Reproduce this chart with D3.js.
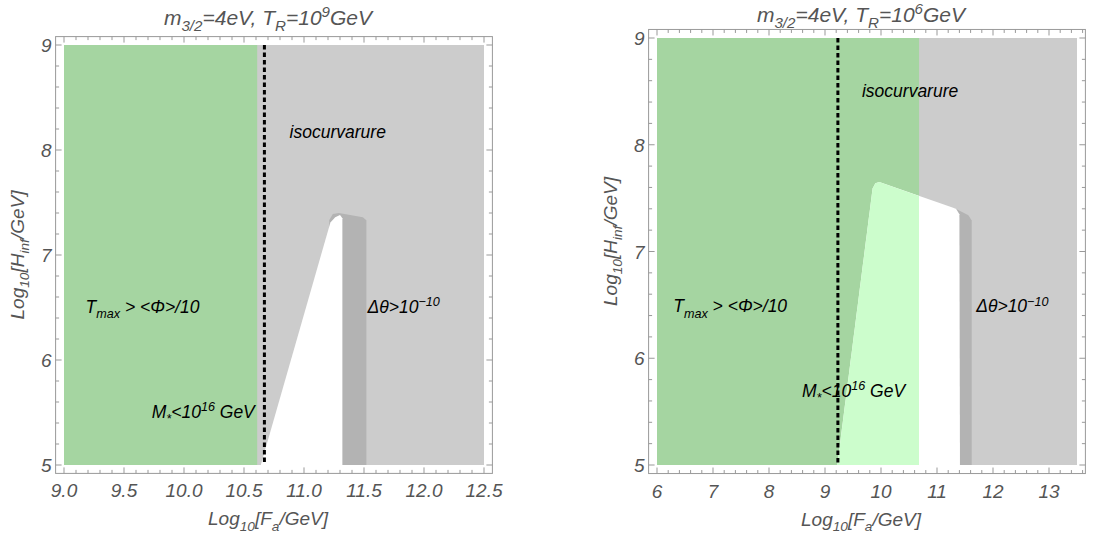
<!DOCTYPE html>
<html>
<head>
<meta charset="utf-8">
<script src="https://cdn.jsdelivr.net/npm/d3@7"></script>
<style>
  body { margin: 0; background: #fff; }
  text { font-family: "Liberation Sans", Arial, sans-serif; font-style: italic; }
</style>
</head>
<body>
<script>
// ---- data ----
var leftXTicks = [9.0, 9.5, 10.0, 10.5, 11.0, 11.5, 12.0, 12.5];
var rightXTicks = [6, 7, 8, 9, 10, 11, 12, 13];
var yTicks = [5, 6, 7, 8, 9];

// left panel regions (Log10 Fa, Log10 Hinf)
var leftGreen = [[9, 5], [10.61, 5], [10.61, 9], [9, 9]];
var leftDark = [[11.21, 7.33], [11.24, 7.39], [11.29, 7.40], [11.49, 7.36], [11.52, 7.33], [11.52, 5], [11.21, 5]];
var leftWhite = [[10.64, 5], [11.22, 7.31], [11.26, 7.36], [11.30, 7.38], [11.32, 7.35], [11.32, 5]];
var leftDash = 10.67;

// right panel regions
var rightGreenEdge = 10.68;
var rightDark = [[11.30, 7.41], [11.56, 7.34], [11.62, 7.29], [11.62, 5], [11.30, 5]];
var rightWhite = [[9.22, 5], [9.85, 7.59], [9.90, 7.64], [9.97, 7.65], [11.34, 7.40], [11.40, 7.35], [11.41, 5]];
var rightDash = 9.23;

var w = 1096;
var h = 533;

var svg = d3.select("body").append("svg")
  .attr("width", w)
  .attr("height", h);

function richText(g, x, y, parts, size, color, anchor) {
  var t = g.append("text")
    .attr("x", x)
    .attr("y", y)
    .attr("font-size", size)
    .attr("fill", color)
    .attr("text-anchor", anchor || "start");
  var shift = 0;
  parts.forEach(function(p) {
    var target = p.sub ? size * 0.3 : (p.sup ? -size * 0.36 : 0);
    t.append("tspan")
      .attr("dy", target - shift)
      .attr("font-size", (p.sub || p.sup) ? size * 0.72 : size)
      .text(p.t);
    shift = target;
  });
  return t;
}

function drawPanel(cfg) {
  var x = d3.scaleLinear().domain(cfg.xDomain).range(cfg.xRange);
  var y = d3.scaleLinear().domain([5, 9]).range(cfg.yRange);
  var padX = (cfg.xDomain[1] - cfg.xDomain[0]) * 0.02;
  var padY = 4 * 0.02;
  var fx0 = x(cfg.xDomain[0] - padX), fx1 = x(cfg.xDomain[1] + padX);
  var fy0 = y(9 + padY), fy1 = y(5 - padY);
  var g = svg.append("g");
  var line = d3.line().x(function(d) { return x(d[0]); }).y(function(d) { return y(d[1]); });

  // gray background region
  g.append("rect")
    .attr("x", x(cfg.xDomain[0])).attr("y", y(9))
    .attr("width", x(cfg.xDomain[1]) - x(cfg.xDomain[0]))
    .attr("height", y(5) - y(9))
    .attr("fill", "#cccccc");

  // green region
  g.append("path").attr("d", line(cfg.green) + "Z").attr("fill", "#a5d5a1");

  g.append("path").attr("d", line(cfg.dark) + "Z").attr("fill", "#b3b3b3");
  g.append("path").attr("d", line(cfg.white) + "Z").attr("fill", "#ffffff");

  if (cfg.lightEdge) {
    var cid = "clip" + cfg.id;
    g.append("clipPath").attr("id", cid)
      .append("rect")
      .attr("x", x(cfg.xDomain[0])).attr("y", y(9))
      .attr("width", x(cfg.lightEdge) - x(cfg.xDomain[0]))
      .attr("height", y(5) - y(9));
    g.append("path").attr("d", line(cfg.white) + "Z")
      .attr("fill", "#ccfdcc")
      .attr("clip-path", "url(#" + cid + ")");
  }

  // dashed line
  g.append("line")
    .attr("x1", x(cfg.dash)).attr("x2", x(cfg.dash))
    .attr("y1", y(9)).attr("y2", y(5))
    .attr("stroke", "#000").attr("stroke-width", 3)
    .attr("stroke-dasharray", "4.5,3");

  // frame
  g.append("rect")
    .attr("x", fx0).attr("y", fy0)
    .attr("width", fx1 - fx0).attr("height", fy1 - fy0)
    .attr("fill", "none").attr("stroke", "#999").attr("stroke-width", 1);

  // ticks (inward, mirrored)
  var xMinor = d3.range(Math.round(cfg.xDomain[0] / cfg.xMinor), Math.round(cfg.xDomain[1] / cfg.xMinor) + 1)
    .map(function(i) { return i * cfg.xMinor; });
  var yMinor = d3.range(25, 46).map(function(i) { return i * 0.2; });
  var tk = g.append("g").attr("stroke", "#999").attr("stroke-width", 1);
  xMinor.forEach(function(v) {
    var major = cfg.xTicks.some(function(t) { return Math.abs(t - v) < 1e-6; });
    var len = major ? 6 : 3.5;
    tk.append("line").attr("x1", x(v)).attr("x2", x(v)).attr("y1", fy1).attr("y2", fy1 - len);
    tk.append("line").attr("x1", x(v)).attr("x2", x(v)).attr("y1", fy0).attr("y2", fy0 + len);
  });
  yMinor.forEach(function(v) {
    var major = Math.abs(v - Math.round(v)) < 1e-6;
    var len = major ? 6 : 3.5;
    tk.append("line").attr("x1", fx0).attr("x2", fx0 + len).attr("y1", y(v)).attr("y2", y(v));
    tk.append("line").attr("x1", fx1).attr("x2", fx1 - len).attr("y1", y(v)).attr("y2", y(v));
  });

  // tick labels
  cfg.xTicks.forEach(function(v) {
    g.append("text").attr("x", x(v)).attr("y", fy1 + 24)
      .attr("text-anchor", "middle").attr("font-size", 19).attr("fill", "#555")
      .text(cfg.xFormat(v));
  });
  yTicks.forEach(function(v) {
    g.append("text").attr("x", fx0 - 4).attr("y", y(v) + 7)
      .attr("text-anchor", "end").attr("font-size", 19).attr("fill", "#555")
      .text(v);
  });

  // axis titles
  var cx = (fx0 + fx1) / 2;
  richText(g, cx - 6, fy1 + 52, [{t: "Log"}, {t: "10", sub: true}, {t: "[F"}, {t: "a", sub: true}, {t: "/GeV]"}], 19, "#555", "middle");
  richText(g.append("g").attr("transform", "translate(" + (fx0 - 32) + "," + ((fy0 + fy1) / 2 + cfg.yLabelShift) + ") rotate(-90)"),
    0, 0, [{t: "Log"}, {t: "10", sub: true}, {t: "[H"}, {t: "inf", sub: true}, {t: "/GeV]"}], 19, "#555", "middle");

  // plot title
  richText(g, cx - 6, cfg.titleY, [{t: "m"}, {t: "3/2", sub: true}, {t: "=4eV, T"}, {t: "R", sub: true}, {t: "=10"}, {t: cfg.tr, sup: true}, {t: "GeV"}], 21, "#555", "middle");

  // region labels
  var L = cfg.labels;
  richText(g, x(L.iso[0]), y(L.iso[1]), [{t: "isocurvarure"}], 17.5, "#000");
  richText(g, x(L.tmax[0]), y(L.tmax[1]), [{t: "T"}, {t: "max", sub: true}, {t: " >  <\u03A6>/10"}], 17.5, "#000");
  richText(g, x(L.mstar[0]), y(L.mstar[1]), [{t: "M"}, {t: "*", sub: true}, {t: "<10"}, {t: "16", sup: true}, {t: " GeV"}], 17.5, "#000", L.mAnchor);
  richText(g, x(L.dth[0]), y(L.dth[1]), [{t: "\u0394\u03B8>10"}, {t: "\u221210", sup: true}], 17.5, "#000");
}

drawPanel({
  id: "L",
  xDomain: [9, 12.5], xRange: [64, 484], yRange: [465, 45],
  xTicks: leftXTicks, xMinor: 0.1,
  xFormat: d3.format(".1f"),
  green: leftGreen, dark: leftDark, white: leftWhite, dash: leftDash,
  tr: "9", yLabelShift: 0, titleY: 25,
  labels: { iso: [10.88, 8.11], tmax: [9.18, 6.45], mstar: [10.59, 5.45], mAnchor: "end", dth: [11.53, 6.45] }
});

drawPanel({
  id: "R",
  xDomain: [6, 13.5], xRange: [657, 1077], yRange: [465, 38],
  xTicks: rightXTicks, xMinor: 0.2,
  xFormat: d3.format("d"),
  green: [[6, 5], [rightGreenEdge, 5], [rightGreenEdge, 9], [6, 9]],
  dark: rightDark, white: rightWhite, dash: rightDash,
  lightEdge: rightGreenEdge,
  tr: "6", yLabelShift: -10, titleY: 22,
  labels: { iso: [9.66, 8.45], tmax: [6.29, 6.43], mstar: [8.59, 5.64], mAnchor: "start", dth: [11.70, 6.43] }
});
</script>
</body>
</html>
